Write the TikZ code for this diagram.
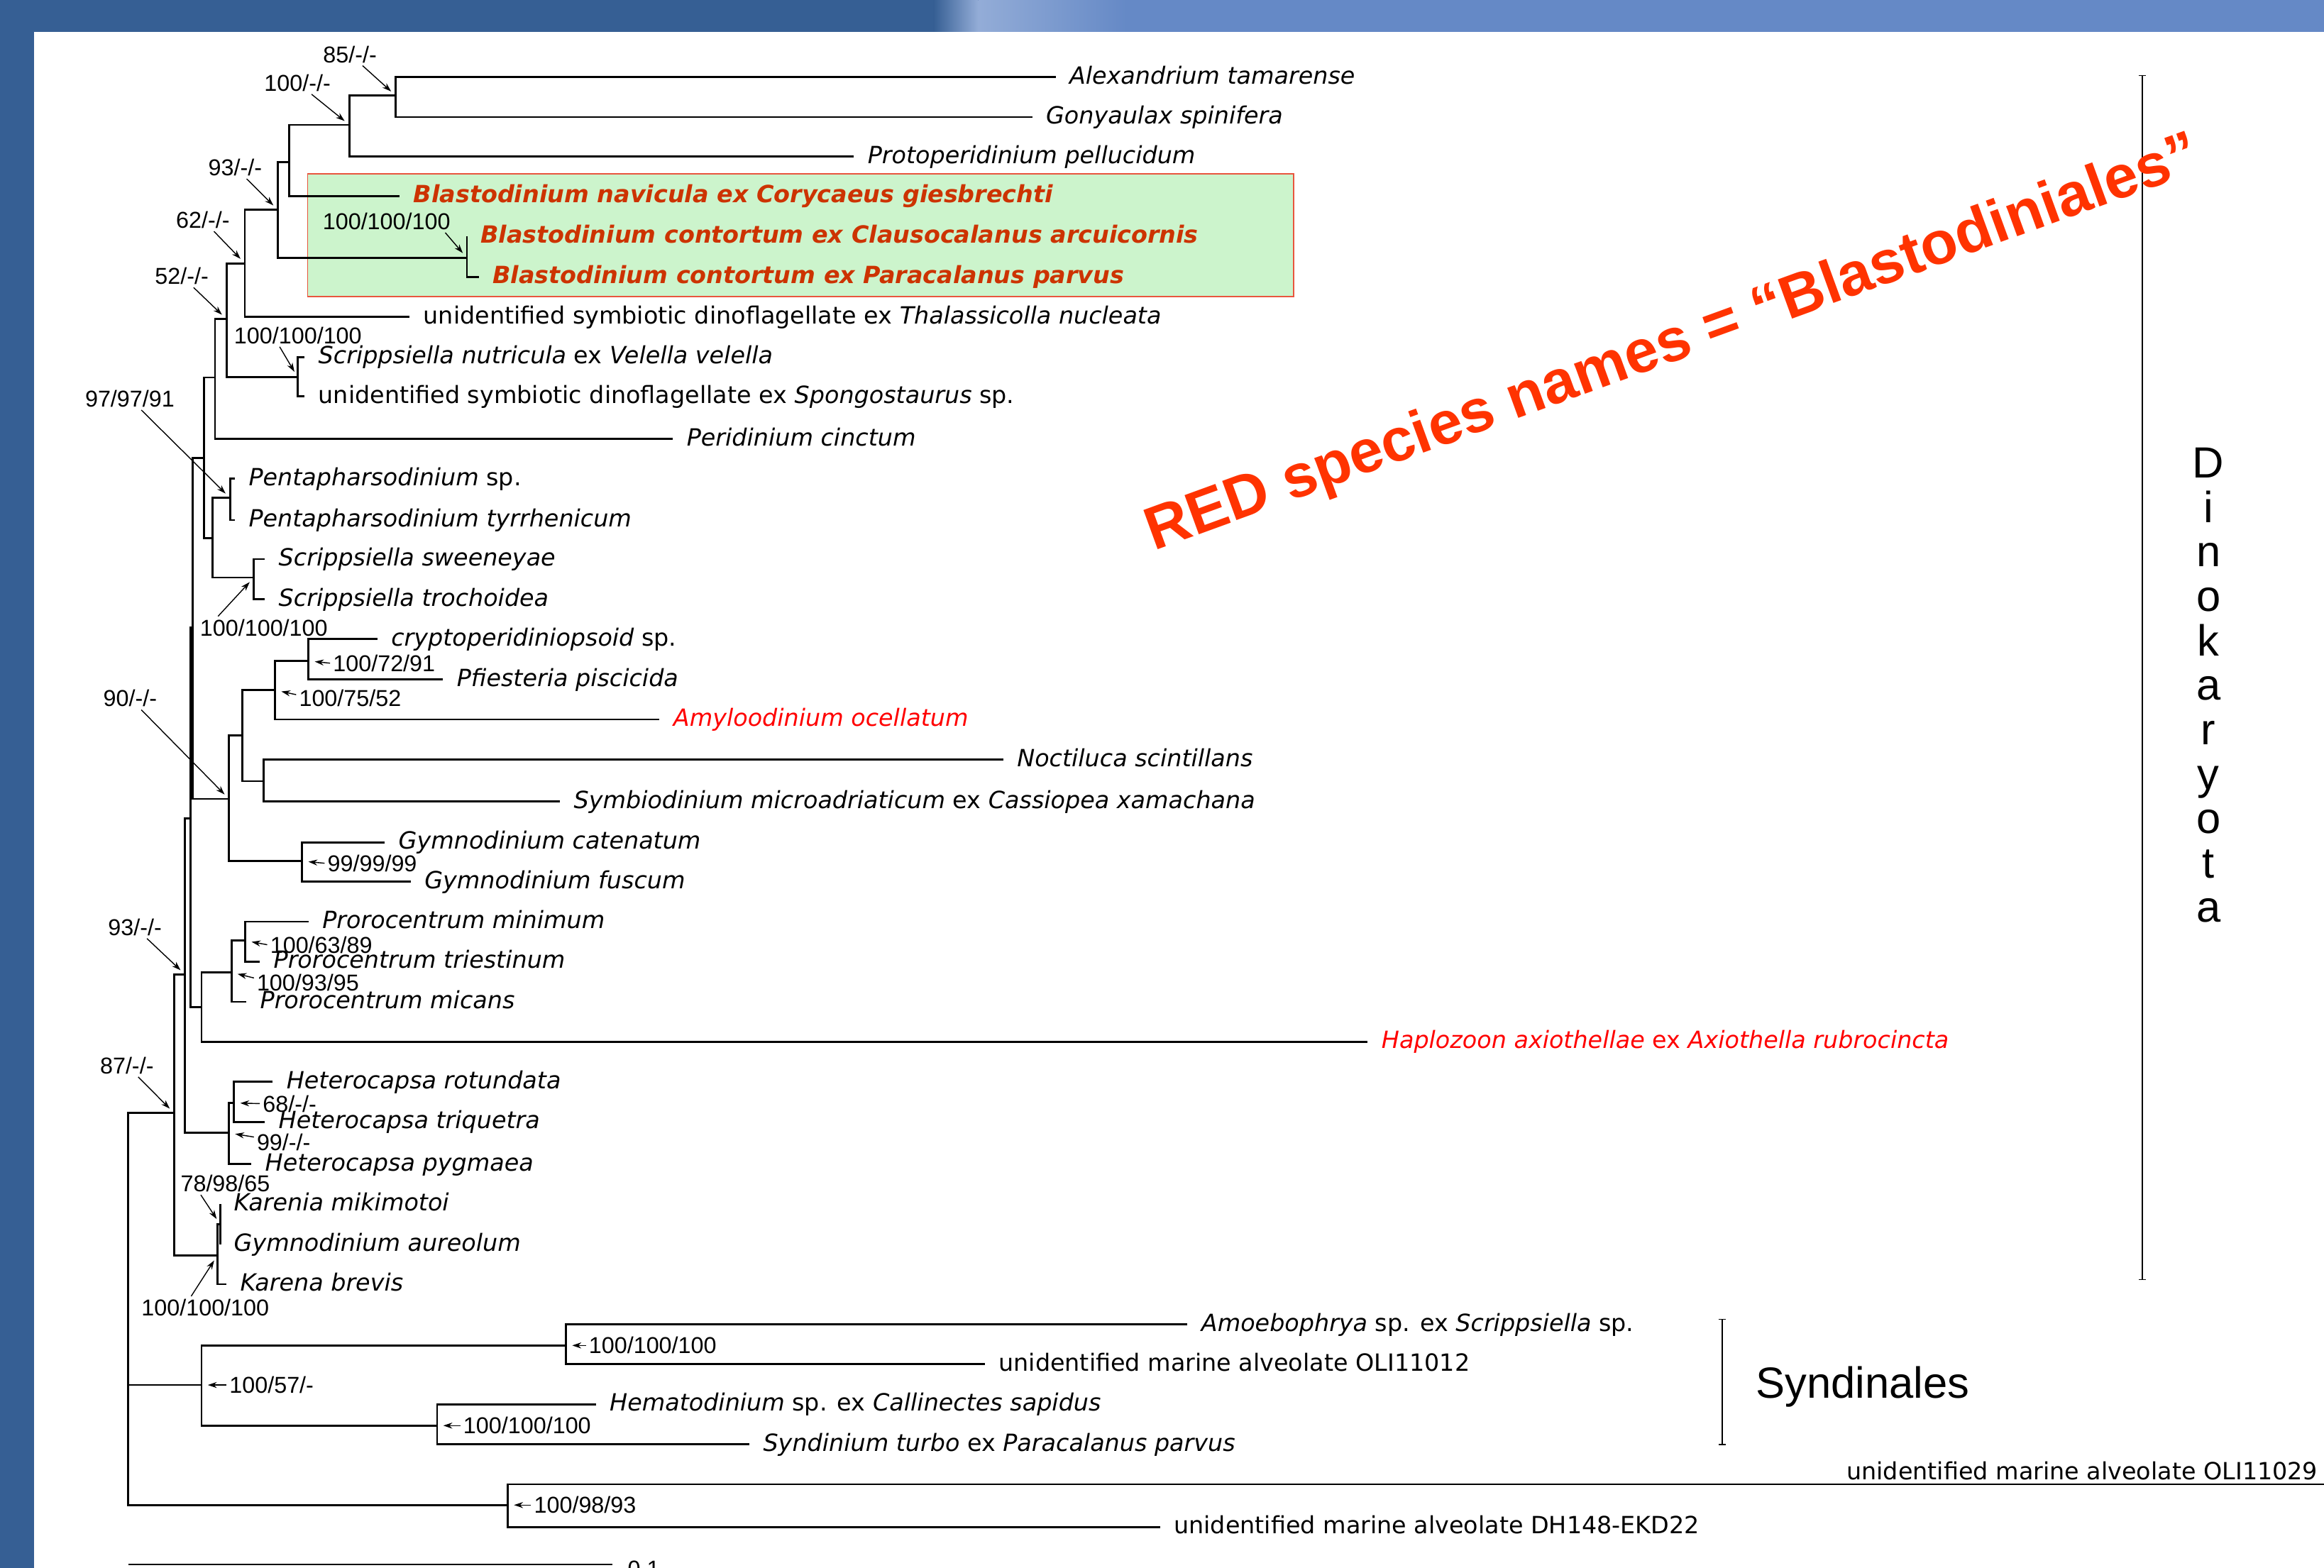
\documentclass[tikz,border=0pt]{standalone}
\usepackage{fontspec}
\setmainfont{DejaVu Sans}[ItalicFont={DejaVu Sans Oblique},BoldFont={DejaVu Sans Bold},BoldItalicFont={DejaVu Sans Bold Oblique}]
\newfontfamily\arialfont{Liberation Sans}
\usetikzlibrary{arrows.meta}
\definecolor{slideblue}{HTML}{365F94}
\definecolor{slidelight}{HTML}{6589C6}
\definecolor{boxgreen}{HTML}{CCF4CC}
\definecolor{boxedge}{HTML}{E8553D}
\definecolor{blastored}{HTML}{CC3300}
\definecolor{notered}{HTML}{FF3300}
\newcommand{\leaffont}{\fontsize{9.5}{11}\selectfont}
\newcommand{\suppfont}{\arialfont\fontsize{9.2}{11}\selectfont}
\newcommand{\cladefont}{\arialfont\fontsize{17.5}{20}\selectfont}

\begin{document}
\begin{tikzpicture}[
  x=0.020887cm, y=-0.020887cm,
  branch/.style={draw=black,line width=0.8pt},
  leaf/.style={anchor=mid west,inner xsep=0.188cm,inner ysep=0pt,font=\leaffont\itshape},
  leafup/.style={leaf,font=\leaffont},
  blasto/.style={leaf,font=\leaffont\bfseries\itshape,text=blastored},
  redleaf/.style={leaf,text=red},
  supp/.style={font=\suppfont,inner sep=1pt},
  supparrow/.style={draw=black,line width=0.4pt,-{Stealth[length=3.6pt,width=2.4pt]},shorten >=2.5pt},
  cladebar/.style={draw=black,line width=0.4pt,{Bar[width=3pt]}-{Bar[width=3pt]}}
]
  \useasboundingbox (0,0) rectangle (1568,1058);
  \fill[slideblue] (0,0) rectangle (1568,1058);
  \shade[left color=slideblue,right color=slidelight!70!white] (630,0) rectangle (660,21.6);
  \shade[left color=slidelight!70!white,right color=slidelight] (660,0) rectangle (760,21.6);
  \fill[slidelight] (760,0) rectangle (1568,21.6);
  \fill[white] (23,21.6) rectangle (1568,1058);

  \draw[boxedge,fill=boxgreen,line width=0.5pt] (207.6,117.4) rectangle (872.7,200.2);

  \node[leaf] (l1) at (712.2, 51.9) {Alexandrium tamarense};
  \node[leaf] (l2) at (696.4, 79.0) {Gonyaulax spinifera};
  \node[leaf] (l3) at (576.1,105.7) {Protoperidinium pellucidum};
  \node[blasto] (l4) at (269.7,132.3) {Blastodinium navicula ex Corycaeus giesbrechti};
  \node[blasto] (l5) at (315.0,159.4) {Blastodinium contortum ex Clausocalanus arcuicornis};
  \node[blasto] (l6) at (323.0,186.9) {Blastodinium contortum ex Paracalanus parvus};
  \node[leaf] (l7) at (276.4,213.8) {\textup{unidentified symbiotic dinoflagellate ex} Thalassicolla nucleata};
  \node[leaf] (l8) at (205.5,240.9) {Scrippsiella nutricula \textup{ex} Velella velella};
  \node[leaf] (l9) at (205.5,267.5) {\textup{unidentified symbiotic dinoflagellate ex} Spongostaurus \textup{sp.}};
  \node[leaf] (l10) at (454.0,296.3) {Peridinium cinctum};
  \node[leaf] (l11) at (158.5,322.9) {Pentapharsodinium \textup{sp.}};
  \node[leaf] (l12) at (158.5,350.9) {Pentapharsodinium tyrrhenicum};
  \node[leaf] (l13) at (178.7,377.3) {Scrippsiella sweeneyae};
  \node[leaf] (l14) at (178.7,404.4) {Scrippsiella trochoidea};
  \node[leaf] (l15) at (254.6,431.3) {cryptoperidiniopsoid \textup{sp.}};
  \node[leaf] (l16) at (298.9,458.4) {Pfiesteria piscicida};
  \node[redleaf] (l17) at (445.0,485.5) {Amyloodinium ocellatum};
  \node[leaf] (l18) at (676.9,512.5) {Noctiluca scintillans};
  \node[leaf] (l19) at (377.8,540.9) {Symbiodinium microadriaticum \textup{ex} Cassiopea xamachana};
  \node[leaf] (l20) at (259.6,568.4) {Gymnodinium catenatum};
  \node[leaf] (l21) at (277.1,595.0) {Gymnodinium fuscum};
  \node[leaf] (l22) at (208.2,621.9) {Prorocentrum minimum};
  \node[leaf] (l23) at (175.3,648.8) {Prorocentrum triestinum};
  \node[leaf] (l24) at (166.2,676.0) {Prorocentrum micans};
  \node[redleaf] (l25) at (922.8,702.9) {Haplozoon axiothellae \textup{ex} Axiothella rubrocincta};
  \node[leaf] (l26) at (184.0,730.0) {Heterocapsa rotundata};
  \node[leaf] (l27) at (178.7,757.0) {Heterocapsa triquetra};
  \node[leaf] (l28) at (169.6,785.5) {Heterocapsa pygmaea};
  \node[leaf] (l29) at (148.5,812.6) {Karenia mikimotoi};
  \node[leaf] (l30) at (148.5,839.6) {Gymnodinium aureolum};
  \node[leaf] (l31) at (152.8,866.6) {Karena brevis};
  \node[leaf] (l32) at (801.2,893.6) {Amoebophrya \textup{sp. ex} Scrippsiella \textup{sp.}};
  \node[leafup] (l33) at (664.5,920.6) {unidentified marine alveolate OLI11012};
  \node[leaf] (l34) at (402.0,947.6) {Hematodinium \textup{sp. ex} Callinectes sapidus};
  \node[leaf] (l35) at (505.6,974.6) {Syndinium turbo \textup{ex} Paracalanus parvus};
  \coordinate (l36) at (1600,1001.6);
  \node[font=\leaffont,anchor=base west,inner sep=0pt] (l36t) at (1245.6,998.5) {unidentified marine alveolate OLI11029};
  \node[leafup] (l37) at (782.7,1030.5) {unidentified marine alveolate DH148-EKD22};

  \coordinate (nA) at (267.0, 64.5);
  \coordinate (nB) at (235.8, 84.3);
  \coordinate (nC) at (195.1,109.4);
  \coordinate (nE) at (315.0,174.0);
  \coordinate (nD) at (187.4,141.6);
  \coordinate (nF) at (165.2,177.7);
  \coordinate (nH) at (200.8,254.5);
  \coordinate (nG) at (152.8,215.3);
  \coordinate (nI) at (145.1,254.7);
  \coordinate (nL) at (155.2,336.0);
  \coordinate (nM) at (171.3,389.7);
  \coordinate (nK) at (143.4,363.2);
  \coordinate (nJ) at (137.7,309.1);
  \coordinate (nO3) at (208.2,446.0);
  \coordinate (nO2) at (185.7,465.7);
  \coordinate (nO4) at (178.0,527.1);
  \coordinate (nO1) at (163.6,496.4);
  \coordinate (nO5) at (203.9,581.1);
  \coordinate (nO) at (154.5,539.1);
  \coordinate (nN) at (130.0,423.6);
  \coordinate (nQ2) at (165.6,634.8);
  \coordinate (nQ1) at (156.2,656.2);
  \coordinate (nQ) at (136.0,679.6);
  \coordinate (nP) at (128.6,552.3);
  \coordinate (nS1) at (157.9,744.3);
  \coordinate (nS) at (154.5,764.5);
  \coordinate (nR) at (124.9,657.6);
  \coordinate (nU1) at (148.5,826.1);
  \coordinate (nU) at (146.8,847.0);
  \coordinate (nT) at (117.5,751.1);
  \coordinate (nW1) at (381.9,907.9);
  \coordinate (nW2) at (294.9,962.0);
  \coordinate (nW) at (136.0,934.6);
  \coordinate (nX) at (342.6,1015.6);
  \coordinate (nRoot) at (86.6,934.6);

  \draw[branch] (l1.mid west) -| (nA) |- (l2.mid west);
  \draw[branch] (nA) -| (nB) |- (l3.mid west);
  \draw[branch] (nB) -| (nC) |- (l4.mid west);
  \draw[branch] (l5.mid west) -| (nE) |- (l6.mid west);
  \draw[branch] (nC) -| (nD) |- (nE);
  \draw[branch] (nD) -| (nF) |- (l7.mid west);
  \draw[branch] (l8.mid west) -| (nH) |- (l9.mid west);
  \draw[branch] (nF) -| (nG) |- (nH);
  \draw[branch] (nG) -| (nI) |- (l10.mid west);
  \draw[branch] (l11.mid west) -| (nL) |- (l12.mid west);
  \draw[branch] (l13.mid west) -| (nM) |- (l14.mid west);
  \draw[branch] (nL) -| (nK) |- (nM);
  \draw[branch] (nI) -| (nJ) |- (nK);
  \draw[branch] (l15.mid west) -| (nO3) |- (l16.mid west);
  \draw[branch] (nO3) -| (nO2) |- (l17.mid west);
  \draw[branch] (l18.mid west) -| (nO4) |- (l19.mid west);
  \draw[branch] (nO2) -| (nO1) |- (nO4);
  \draw[branch] (l20.mid west) -| (nO5) |- (l21.mid west);
  \draw[branch] (nO1) -| (nO) |- (nO5);
  \draw[branch] (nJ) -| (nN) |- (nO);
  \draw[branch] (l22.mid west) -| (nQ2) |- (l23.mid west);
  \draw[branch] (nQ2) -| (nQ1) |- (l24.mid west);
  \draw[branch] (nQ1) -| (nQ) |- (l25.mid west);
  \draw[branch] (nN) -| (nP) |- (nQ);
  \draw[branch] (l26.mid west) -| (nS1) |- (l27.mid west);
  \draw[branch] (nS1) -| (nS) |- (l28.mid west);
  \draw[branch] (nP) -| (nR) |- (nS);
  \draw[branch] (l29.mid west) -| (nU1) |- (l30.mid west);
  \draw[branch] (nU1) -| (nU) |- (l31.mid west);
  \draw[branch] (nR) -| (nT) |- (nU);
  \draw[branch] (l32.mid west) -| (nW1) |- (l33.mid west);
  \draw[branch] (l34.mid west) -| (nW2) |- (l35.mid west);
  \draw[branch] (nW1) -| (nW) |- (nW2);
  \draw[branch] (l36) -| (nX) |- (l37.mid west);
  \draw[branch] (nT) -| (nRoot) |- (nX);
  \draw[branch] (nRoot) -- (nW);

  \node[supp] (t85) at (236.1, 36.6) {85/-/-};
  \node[supp] (t100a) at (200.7, 55.9) {100/-/-};
  \node[supp] (t93a) at (158.7,113.0) {93/-/-};
  \node[supp] (t62) at (136.9,148.4) {62/-/-};
  \node[supp] (t52) at (122.6,186.3) {52/-/-};
  \node[supp] (t100b) at (260.8,149.3) {100/100/100};
  \node[supp] (t100c) at (201.0,226.3) {100/100/100};
  \node[supp] (t97) at (87.6,269.0) {97/97/91};
  \node[supp] (t100d) at (178.0,423.6) {100/100/100};
  \node[supp] (t90) at (87.8,471.3) {90/-/-};
  \node[supp] (t93b) at (91.0,625.6) {93/-/-};
  \node[supp] (t87) at (85.6,719.0) {87/-/-};
  \node[supp] (t78) at (152.0,798.6) {78/98/65};
  \node[supp] (t100e) at (138.5,882.4) {100/100/100};

  \draw[supparrow] (t85) -- (nA);
  \draw[supparrow] (t100a) -- (nB);
  \draw[supparrow] (t93a) -- (nD);
  \draw[supparrow] (t62) -- (nF);
  \draw[supparrow] (t52) -- (nG);
  \draw[supparrow] (t100b.349) -- (nE);
  \draw[supparrow] (t100c.212) -- (nH);
  \draw[supparrow] (t97) -- (nL);
  \draw[supparrow] (t100d.166) -- (nM);
  \draw[supparrow] (t90) -- (nO);
  \draw[supparrow] (t93b) -- (nR);
  \draw[supparrow] (t87) -- (nT);
  \draw[supparrow] (t78.205) -- (nU1);
  \draw[supparrow] (t100e.141) -- (nU);

  \node[supp,anchor=west] (t10072) at (222.7,447.5) {100/72/91};
  \node[supp,anchor=west] (t10075) at (199.8,471.3) {100/75/52};
  \node[supp,anchor=west] (t99a) at (219.0,582.5) {99/99/99};
  \node[supp,anchor=west] (t10063) at (180.3,637.5) {100/63/89};
  \node[supp,anchor=west] (t10093) at (171.3,663.1) {100/93/95};
  \node[supp,anchor=west] (t68) at (175.3,744.7) {68/-/-};
  \node[supp,anchor=west] (t99b) at (171.3,770.8) {99/-/-};
  \node[supp,anchor=west] (t10057) at (152.8,934.6) {100/57/-};
  \node[supp,anchor=west] (t100f) at (395.3,907.9) {100/100/100};
  \node[supp,anchor=west] (t100g) at (310.6,962.0) {100/100/100};
  \node[supp,anchor=west] (t10098) at (358.3,1015.6) {100/98/93};

  \draw[supparrow] (t10072.west) -- (nO3);
  \draw[supparrow] (t10075.176) -- (nO2);
  \draw[supparrow] (t99a.west) -- (nO5);
  \draw[supparrow] (t10063.west) -- (nQ2);
  \draw[supparrow] (t10093.175) -- (nQ1);
  \draw[supparrow] (t68.west) -- (nS1);
  \draw[supparrow] (t99b.170) -- (nS);
  \draw[supparrow] (t10057.west) -- (nW);
  \draw[supparrow] (t100f.west) -- (nW1);
  \draw[supparrow] (t100g.west) -- (nW2);
  \draw[supparrow] (t10098.west) -- (nX);

  \coordinate (sb0) at (86.6,1055.7);
  \coordinate (sb1) at (413.0,1055.7);
  \draw[branch] (sb0) -- (sb1);
  \node[supp,anchor=base west] (sbl) at (421.5,1064) {0.1};

  \coordinate (dkTop) at (1445.4,50.6);
  \coordinate (dkBot) at (1445.4,863.9);
  \draw[cladebar] (dkTop) -- (dkBot);
  \foreach \ch [count=\i from 0] in {D,i,n,o,k,a,r,y,o,t,a}
    \node[font=\cladefont,anchor=base,inner sep=0pt] (dk\i) at (1490,{322.4+30*\i}) {\ch};

  \coordinate (synTop) at (1161.9,889.9);
  \coordinate (synBot) at (1161.9,975.2);
  \draw[cladebar] (synTop) -- (synBot);
  \node[font=\cladefont,anchor=base west,inner sep=0pt] (syn) at (1184.5,943.6) {Syndinales};

  \node[rotate=20,text=notered,font=\arialfont\bfseries\fontsize{24.3}{28}\selectfont] (rednote) at (1129,233) {RED species names = “Blastodiniales”};
\end{tikzpicture}
\end{document}
